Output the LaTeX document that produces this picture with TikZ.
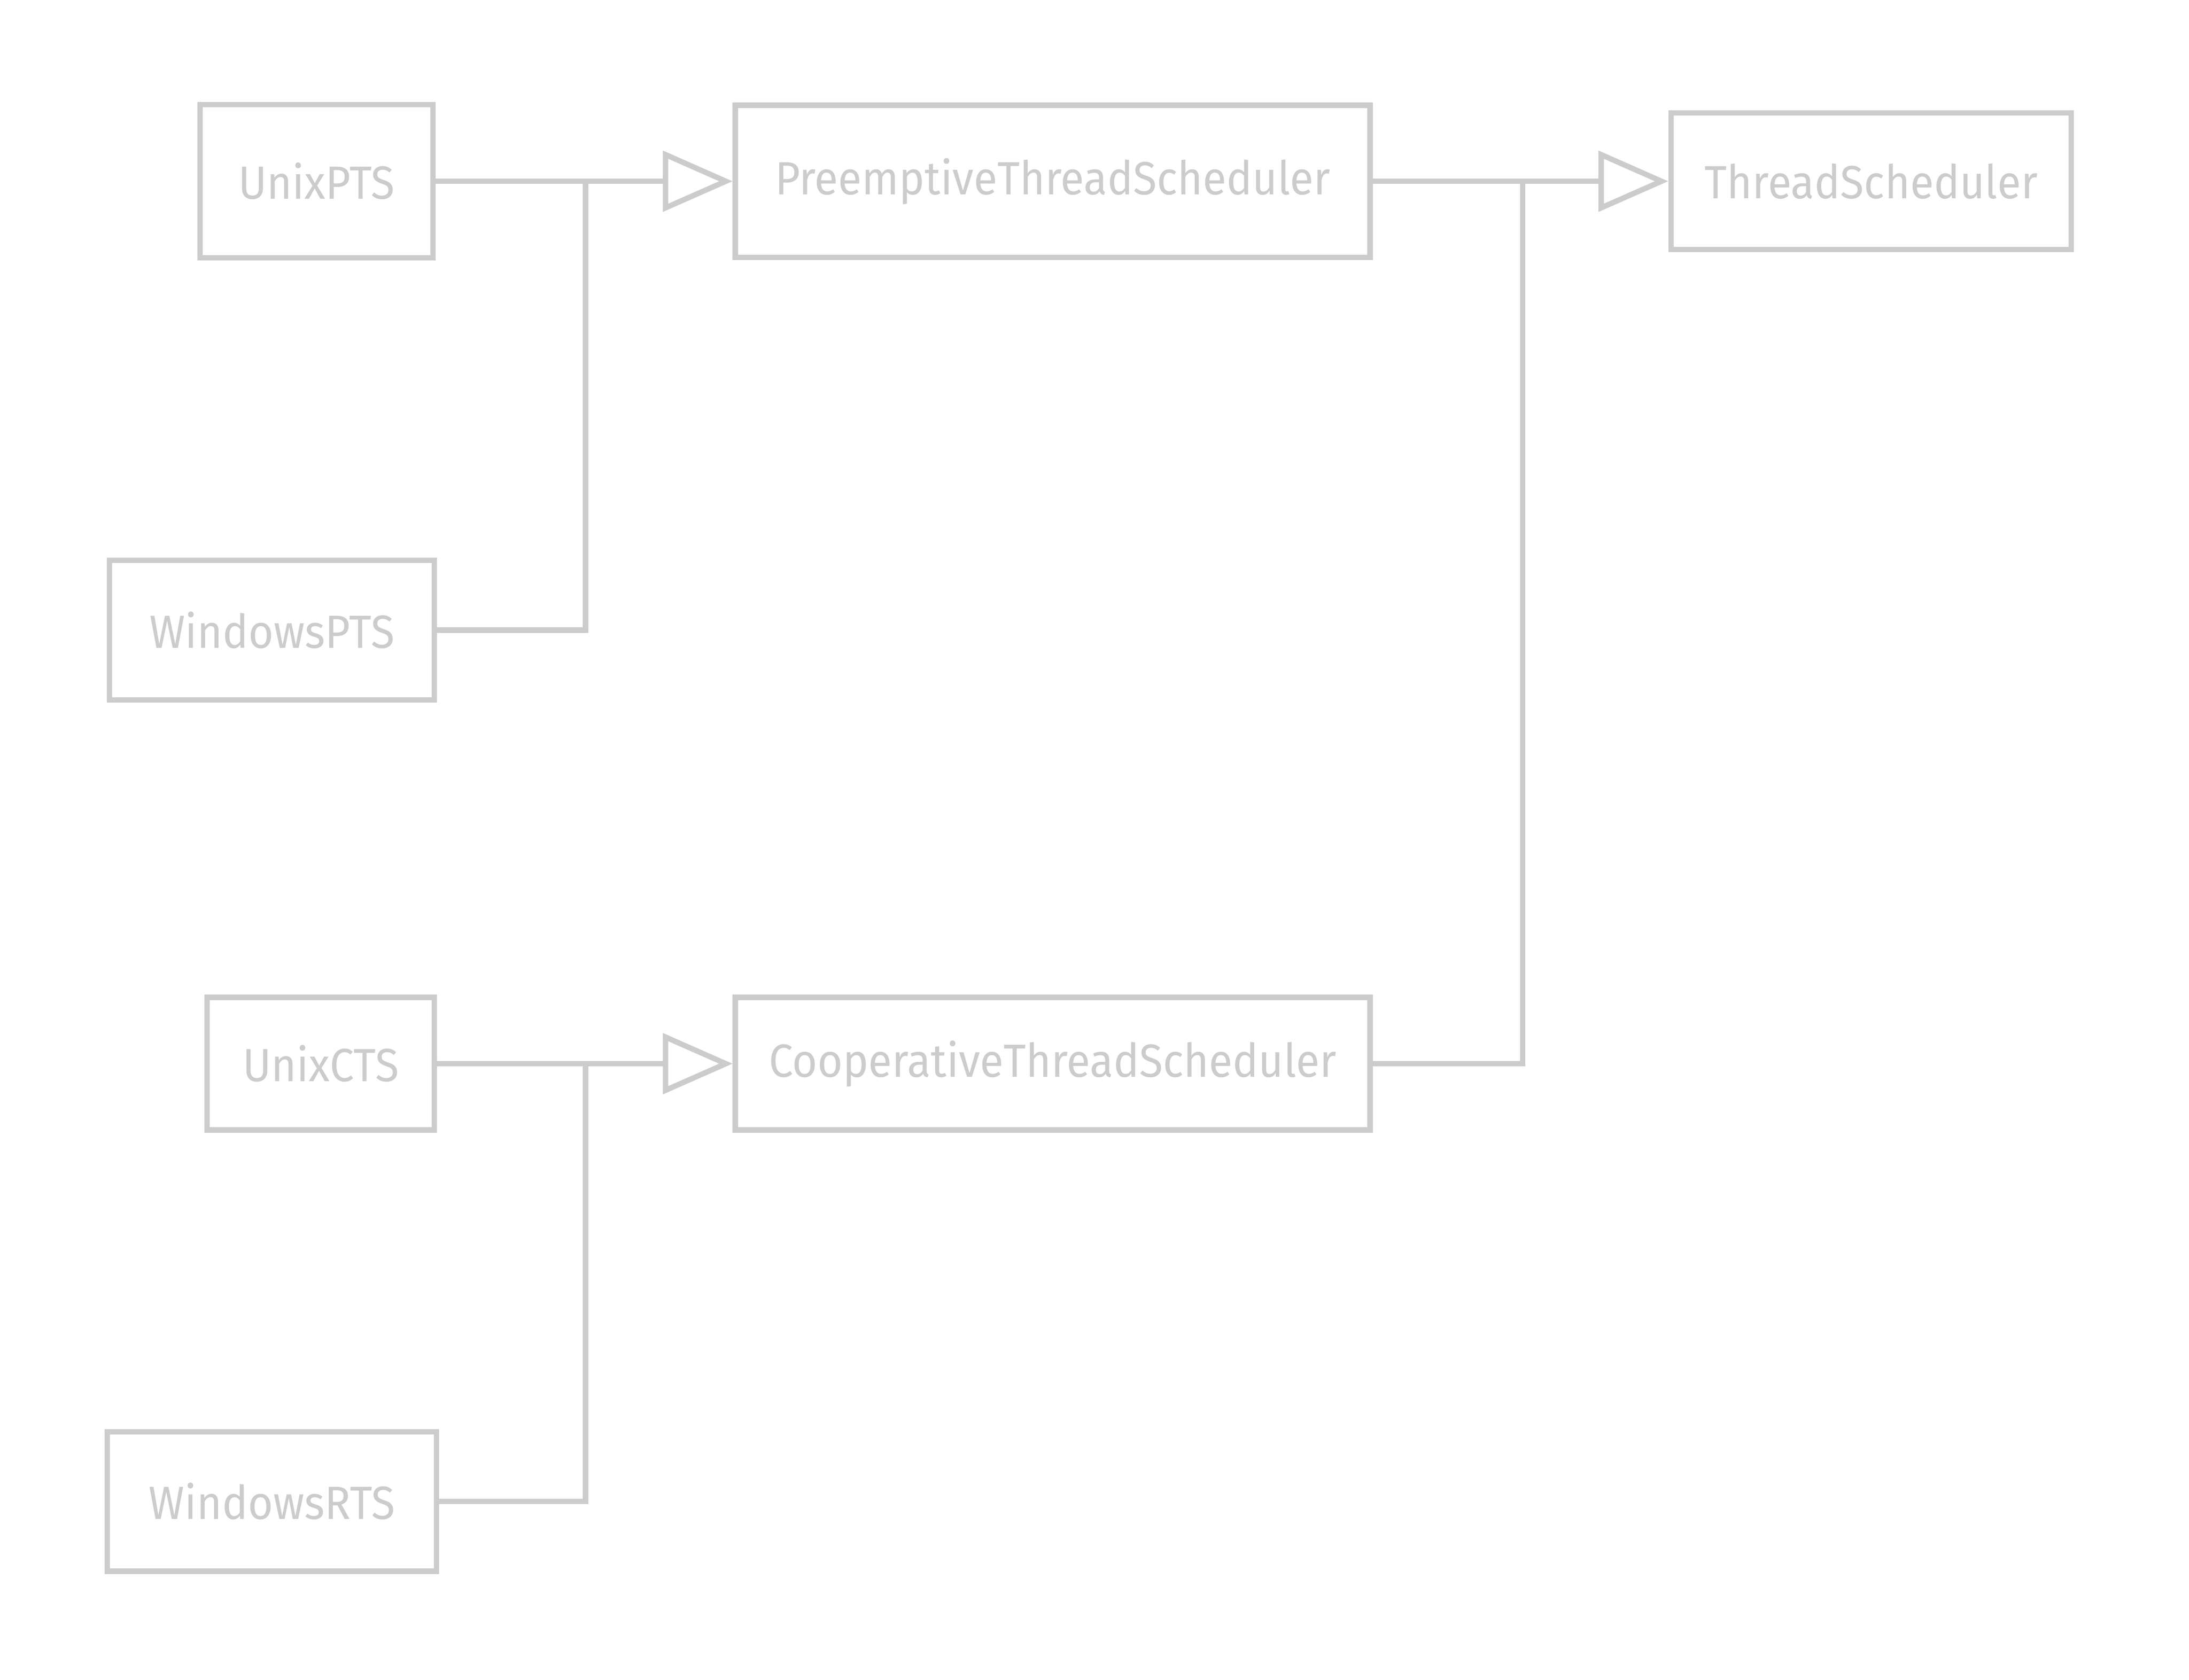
\documentclass[tikz,border=0pt]{standalone}
\usepackage{fontspec}
\newfontfamily\sketchfont[FakeStretch=0.93]{Fira Sans}
\usepackage{tikz}
\usetikzlibrary{positioning,arrows.meta}
\definecolor{sketchgray}{HTML}{CCCCCC}

\begin{document}
\begin{tikzpicture}[x=0.01cm,y=-0.01cm,line width=1.1pt,color=sketchgray]
            \tikzset{class/.style={draw, rectangle, inner sep=0pt, font=\sketchfont\fontsize{9.5}{11}\selectfont},
                     extends/.style={-{Triangle[open, length=0.5cm, width=0.43cm]}}}

            \useasboundingbox (0,0) rectangle (1570,1205);

            \node[class, minimum width=1.67cm, minimum height=1.10cm] (unixpts)     at (227,130)  {UnixPTS};
            \node[class, minimum width=2.33cm, minimum height=1.00cm] (windowspts)  at (195,452)  {WindowsPTS};
            \node[class, minimum width=1.63cm, minimum height=0.95cm] (unixcts)     at (230,763)  {UnixCTS};
            \node[class, minimum width=2.36cm, minimum height=1.00cm] (windowsrts)  at (195,1077) {WindowsRTS};
            \node[class, minimum width=4.55cm, minimum height=1.09cm] (preemptive)  at (755,130)  {PreemptiveThreadScheduler};
            \node[class, minimum width=4.55cm, minimum height=0.95cm] (cooperative) at (755,763)  {CooperativeThreadScheduler};
            \node[class, minimum width=2.87cm, minimum height=0.98cm] (threadsched) at (1342,130) {ThreadScheduler};

            \coordinate (pjoin) at (420,130);
            \coordinate (cjoin) at (420,763);
            \coordinate (tjoin) at (1092,130);

            \draw (unixpts.east) -- (pjoin);
            \draw (windowspts.east) -| (pjoin);
            \draw[extends] (pjoin) -- (preemptive.west);

            \draw (unixcts.east) -- (cjoin);
            \draw (windowsrts.east) -| (cjoin);
            \draw[extends] (cjoin) -- (cooperative.west);

            \draw (preemptive.east) -- (tjoin);
            \draw (cooperative.east) -| (tjoin);
            \draw[extends] (tjoin) -- (threadsched.west);
        \end{tikzpicture}
\end{document}
